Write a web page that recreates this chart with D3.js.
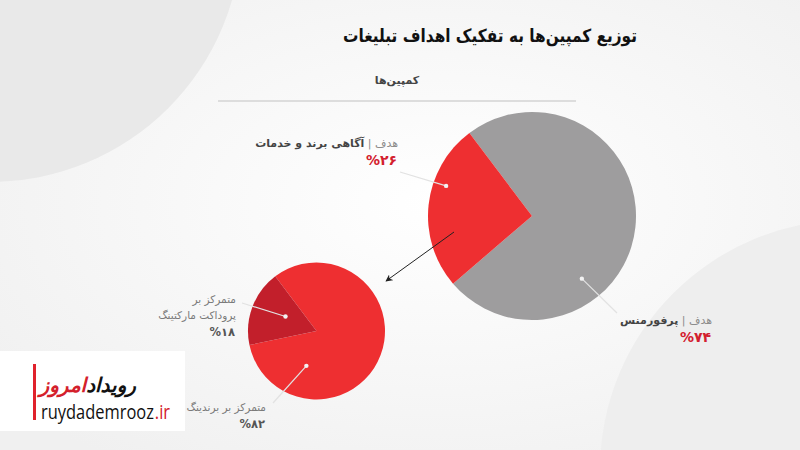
<!DOCTYPE html>
<html>
<head>
<meta charset="utf-8">
<title>توزیع کمپین‌ها</title>
<script src="https://d3js.org/d3.v7.min.js"></script>
<style>
  body { margin: 0; background: #fff; }
  svg { display: block; font-family: 'DejaVu Sans', sans-serif; }
</style>
</head>
<body>
<div id="chart"></div>
<script>
// data
var goalNames = ["پرفورمنس", "آگاهی برند و خدمات"];
var goalValues = [74, 26];
var focusNames = ["متمرکز بر برندینگ", "متمرکز بر پروداکت مارکتینگ"];
var focusValues = [82, 18];
var titleText = "توزیع کمپین‌ها به تفکیک اهداف تبلیغات";
var legendText = "کمپین‌ها";

var faDigits = "۰۱۲۳۴۵۶۷۸۹";
function fa(n) { return String(n).replace(/\d/g, c => faDigits[+c]); }

var W = 800, H = 450;
var svg = d3.select("#chart").append("svg").attr("width", W).attr("height", H);
var defs = svg.append("defs");

var bg = defs.append("radialGradient").attr("id", "bg")
  .attr("cx", "55%").attr("cy", "45%").attr("r", "70%");
bg.append("stop").attr("offset", "0%").attr("stop-color", "#ffffff");
bg.append("stop").attr("offset", "100%").attr("stop-color", "#f0f0f0");

defs.append("marker").attr("id", "arrow")
  .attr("viewBox", "0 0 10 10").attr("refX", 9).attr("refY", 5)
  .attr("markerWidth", 7).attr("markerHeight", 7).attr("orient", "auto")
  .append("path").attr("d", "M0,0 L10,5 L0,10 L3,5 Z").attr("fill", "#222");

svg.append("rect").attr("width", W).attr("height", H).attr("fill", "url(#bg)");
svg.append("circle").attr("cx", -10).attr("cy", -70).attr("r", 252).attr("fill", "#e9e9e9");
svg.append("circle").attr("cx", 850).attr("cy", 470).attr("r", 250).attr("fill", "#eeeeee");

// title + legend
svg.append("text")
  .attr("x", 637).attr("y", 42)
  .attr("direction", "rtl").attr("text-anchor", "start")
  .attr("font-size", 18).attr("font-weight", "bold").attr("fill", "#111")
  .attr("textLength", 294).attr("lengthAdjust", "spacingAndGlyphs")
  .text(titleText);

svg.append("text")
  .attr("x", 397).attr("y", 84)
  .attr("direction", "rtl").attr("text-anchor", "middle")
  .attr("font-size", 11).attr("font-weight", "bold").attr("fill", "#444")
  .text(legendText);

svg.append("line")
  .attr("x1", 218).attr("x2", 576).attr("y1", 101).attr("y2", 101)
  .attr("stroke", "#dddddd").attr("stroke-width", 2);

var start = -37 * Math.PI / 180;
var pie = d3.pie().sort(null).value(d => d.value)
  .startAngle(start).endAngle(start + 2 * Math.PI);

function drawPie(cx, cy, r, names, values, colors) {
  var data = names.map((n, i) => ({ name: n, value: values[i], color: colors[i] }));
  var arcs = pie(data);
  var g = svg.append("g").attr("transform", "translate(" + cx + "," + cy + ")");
  g.selectAll("path").data(arcs).enter().append("path")
    .attr("d", d3.arc().innerRadius(0).outerRadius(r))
    .attr("fill", d => d.data.color);
  return { g: g, arcs: arcs, r: r, cx: cx, cy: cy };
}

// dot inside a slice at a fraction of its angle span and radius
function dotPos(p, i, t, k) {
  var a = p.arcs[i];
  var ang = a.startAngle + t * (a.endAngle - a.startAngle);
  return [p.cx + Math.sin(ang) * p.r * k, p.cy - Math.cos(ang) * p.r * k];
}

function leader(pt, end) {
  svg.append("line")
    .attr("x1", end[0]).attr("y1", end[1]).attr("x2", pt[0]).attr("y2", pt[1])
    .attr("stroke", "#e2e2e2").attr("stroke-width", 1.2);
  svg.append("circle").attr("cx", pt[0]).attr("cy", pt[1]).attr("r", 2.2).attr("fill", "#f2f2f2");
}

function goalLabel(x, y, name, pct) {
  var t = svg.append("text").attr("x", x).attr("y", y)
    .attr("direction", "rtl").attr("text-anchor", "start").attr("font-size", 11);
  t.append("tspan").attr("fill", "#8c8c8c").text("هدف ");
  t.append("tspan").attr("fill", "#8c8c8c").text("| ");
  t.append("tspan").attr("fill", "#444").attr("font-weight", "bold").text(name);
  svg.append("text").attr("x", x - 1).attr("y", y + 18)
    .attr("text-anchor", "end").attr("font-size", 14).attr("font-weight", "bold")
    .attr("fill", "#d3202e").text("%" + fa(pct));
}

function focusLabel(x, y, lines, pct) {
  lines.forEach((l, i) => {
    svg.append("text").attr("x", x).attr("y", y + i * 16)
      .attr("direction", "rtl").attr("text-anchor", "start")
      .attr("font-size", 10.5).attr("fill", "#7a7a7a").text(l);
  });
  svg.append("text").attr("x", x - 1).attr("y", y + lines.length * 16 + 1)
    .attr("text-anchor", "end").attr("font-size", 11.5).attr("font-weight", "bold")
    .attr("fill", "#555").text("%" + fa(pct));
}

var big = drawPie(532, 216, 104, goalNames, goalValues, ["#9e9d9e", "#ee2f31"]);
var small = drawPie(316.5, 331, 68.5, focusNames, focusValues, ["#ee2f31", "#c21f2b"]);

// arrow from the brand slice to its breakdown
svg.append("line")
  .attr("x1", 454).attr("y1", 232).attr("x2", 386).attr("y2", 281)
  .attr("stroke", "#222").attr("stroke-width", 1)
  .attr("marker-end", "url(#arrow)");

leader(dotPos(big, 0, 0.67, 0.77), [617, 313]);
leader(dotPos(big, 1, 0.64, 0.875), [400, 172]);
leader(dotPos(small, 1, 0.57, 0.5), [242, 303]);
leader(dotPos(small, 0, 0.79, 0.53), [273, 403]);

goalLabel(712, 324, goalNames[0], goalValues[0]);
goalLabel(398, 147, goalNames[1], goalValues[1]);
focusLabel(236, 303, ["متمرکز بر", "پروداکت مارکتینگ"], focusValues[1]);
focusLabel(266, 411, [focusNames[0]], focusValues[0]);

// logo box
var logo = svg.append("g");
logo.append("rect").attr("x", 0).attr("y", 351).attr("width", 185).attr("height", 80)
  .attr("fill", "#fff");
logo.append("rect").attr("x", 33).attr("y", 364).attr("width", 3).attr("height", 56)
  .attr("fill", "#e0222c");

var fw = logo.append("text").attr("x", 136).attr("y", 392)
  .attr("direction", "rtl").attr("text-anchor", "start")
  .attr("font-size", 20).attr("font-weight", "bold").attr("font-style", "italic")
  .attr("fill", "#111").text("رویداد");
var fwLen = fw.node().getComputedTextLength();
logo.append("text").attr("x", 136 - fwLen).attr("y", 392)
  .attr("direction", "rtl").attr("text-anchor", "start")
  .attr("font-size", 20).attr("font-weight", "bold").attr("font-style", "italic")
  .attr("fill", "#d4202b").text("امروز");

// url line, squeezed horizontally to fit the box
var ug = logo.append("g");
var u1 = ug.append("text").attr("x", 0).attr("y", 0)
  .attr("font-family", "'Open Sans', sans-serif").attr("font-size", 20)
  .attr("fill", "#111").text("ruydademrooz");
var u1Len = u1.node().getComputedTextLength();
ug.append("text").attr("x", u1Len + 1).attr("y", 0)
  .attr("font-family", "'Open Sans', sans-serif").attr("font-size", 20)
  .attr("fill", "#d4202b").text(".ir");
var sx = 113 / u1Len;
ug.attr("transform", "translate(41,419) scale(" + sx + ",1)");
</script>
</body>
</html>
